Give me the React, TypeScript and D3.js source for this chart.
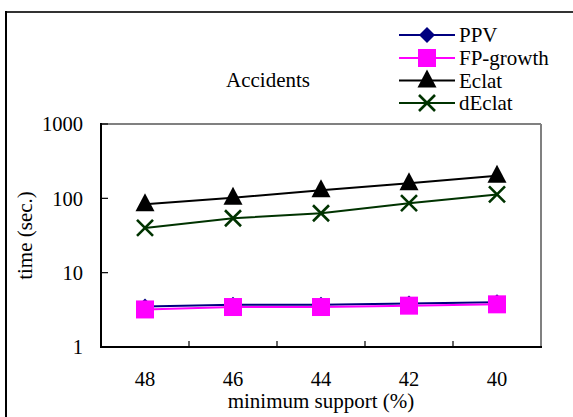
import * as d3 from "d3";

const categories = ["48", "46", "44", "42", "40"];
const seriesNames = ["PPV", "FP-growth", "Eclat", "dEclat"];
const ppv = [3.5, 3.7, 3.7, 3.85, 4.0];
const fpGrowth = [3.2, 3.45, 3.45, 3.6, 3.75];
const eclat = [83, 102, 128, 159, 202];
const dEclat = [40, 54, 63, 86, 113];
const yTicks = [1, 10, 100, 1000];

const colors = ["#000080", "#ff00ff", "#000000", "#003300"];
const markers = ["diamond", "square", "triangle", "cross"];

const font = '"Liberation Serif", "Times New Roman", Times, serif';

const Marker = ({ kind, x, y, color }: { kind: string; x: number; y: number; color: string }) => {
     if (kind === "diamond") {
          return <path d={`M${x},${y - 8}L${x + 8},${y}L${x},${y + 8}L${x - 8},${y}Z`} fill={color} />;
     }
     if (kind === "square") {
          return <rect x={x - 9} y={y - 9} width={18} height={18} fill={color} />;
     }
     if (kind === "triangle") {
          return <path d={`M${x},${y - 11}L${x + 9.5},${y + 7}L${x - 9.5},${y + 7}Z`} fill={color} />;
     }
     return (
          <path
               d={`M${x - 8},${y - 8}L${x + 8},${y + 8}M${x - 8},${y + 8}L${x + 8},${y - 8}`}
               stroke={color}
               strokeWidth={2.6}
               fill="none"
          />
     );
};

export default function App() {
     const width = 573;
     const height = 417;
     const m = { left: 101, right: 541, top: 124, bottom: 347 };

     const x = d3.scaleBand().domain(categories).range([m.left, m.right]);
     const y = d3.scaleLog().domain([1, 1000]).range([m.bottom, m.top]);
     const cx = (c: string) => (x(c) as number) + x.bandwidth() / 2;

     const series = [ppv, fpGrowth, eclat, dEclat];
     const line = d3
          .line<number>()
          .x((_, i) => cx(categories[i]))
          .y((d) => y(d));

     const legendY = [35, 58, 80.5, 103];
     const txt = { fontFamily: font, fontSize: 21 };
     const tick = { fontFamily: font, fontSize: 20.5 };

     return (
          <svg
               width={width}
               height={height}
               style={{ position: "absolute", left: 0, top: 0, background: "#fff", fontFamily: font }}
          >
               {/* outer frame */}
               <line x1={6} y1={12} x2={573} y2={12} stroke="#333" strokeWidth={2} />
               <line x1={6} y1={11} x2={6} y2={417} stroke="#000" strokeWidth={2} />

               <text x={268} y={87} style={txt} textAnchor="middle">
                    Accidents
               </text>

               {/* plot frame */}
               <line x1={m.left} y1={m.top} x2={m.right} y2={m.top} stroke="#808080" strokeWidth={2} />
               <line x1={m.right} y1={m.top} x2={m.right} y2={m.bottom} stroke="#808080" strokeWidth={2} />

               {/* y ticks */}
               {yTicks.map((t) => (
                    <g key={t}>
                         <line x1={m.left} x2={m.left + 7} y1={y(t)} y2={y(t)} stroke="#000" strokeWidth={1.2} />
                         <text x={83} y={y(t)} dy="0.35em" style={tick} textAnchor="end">
                              {t}
                         </text>
                    </g>
               ))}

               {/* x ticks */}
               {categories.slice(1).map((c) => (
                    <line
                         key={c}
                         x1={x(c) as number}
                         x2={x(c) as number}
                         y1={m.bottom}
                         y2={m.bottom - 6}
                         stroke="#000"
                         strokeWidth={1.2}
                    />
               ))}
               {categories.map((c) => (
                    <text key={c} x={cx(c)} y={386} style={tick} textAnchor="middle">
                         {c}
                    </text>
               ))}

               <line x1={m.left} y1={m.top - 1} x2={m.left} y2={m.bottom} stroke="#000" strokeWidth={2} />
               <line x1={m.left - 1} y1={m.bottom} x2={m.right + 1} y2={m.bottom} stroke="#000" strokeWidth={2} />

               <text x={321} y={408} style={txt} textAnchor="middle">
                    minimum support (%)
               </text>
               <text
                    transform={`translate(32,${(m.top + m.bottom) / 2}) rotate(-90)`}
                    style={txt}
                    textAnchor="middle"
               >
                    time (sec.)
               </text>

               {/* series */}
               {series.map((s, si) => (
                    <g key={seriesNames[si]}>
                         <path d={line(s) as string} fill="none" stroke={colors[si]} strokeWidth={2} />
                         {s.map((v, i) => (
                              <Marker key={i} kind={markers[si]} x={cx(categories[i])} y={y(v)} color={colors[si]} />
                         ))}
                    </g>
               ))}

               {/* legend */}
               {seriesNames.map((n, i) => (
                    <g key={n}>
                         <line x1={399} x2={455} y1={legendY[i]} y2={legendY[i]} stroke={colors[i]} strokeWidth={2} />
                         <Marker kind={markers[i]} x={427} y={legendY[i]} color={colors[i]} />
                         <text x={459} y={legendY[i]} dy="0.35em" style={txt}>
                              {n}
                         </text>
                    </g>
               ))}
          </svg>
     );
}
